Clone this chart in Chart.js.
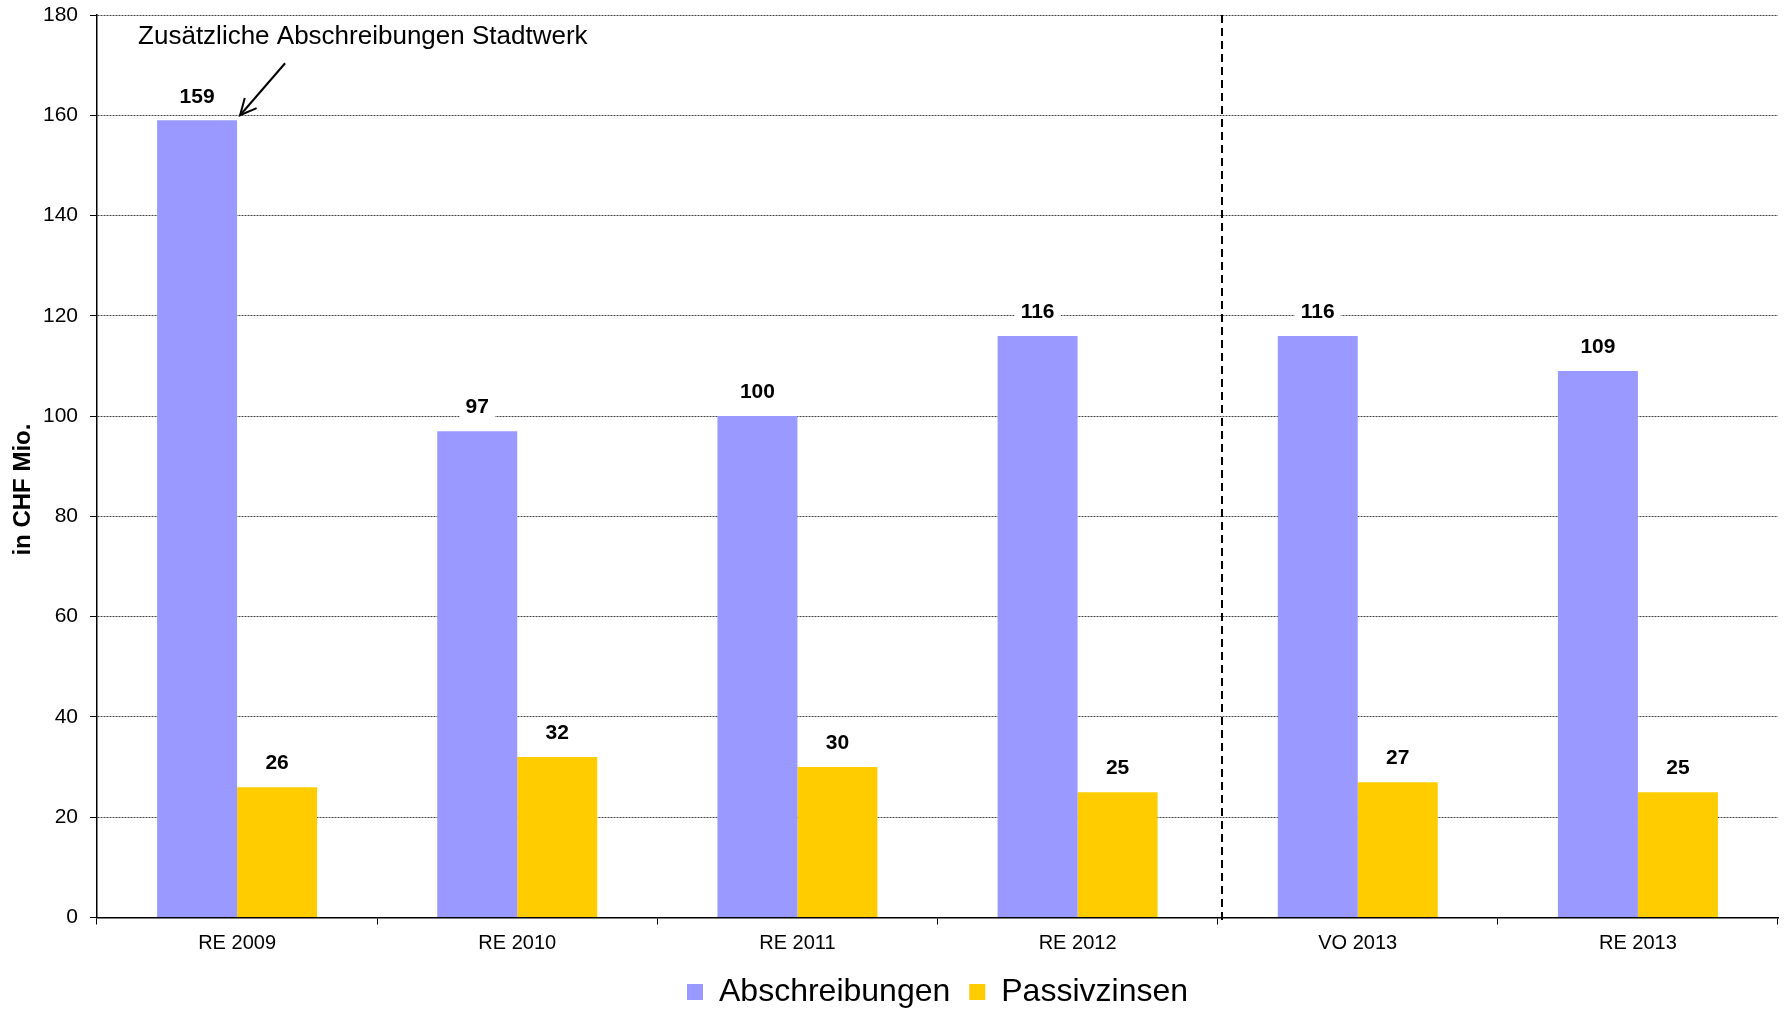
<!DOCTYPE html>
<html>
<head>
<meta charset="utf-8">
<script src="https://cdn.jsdelivr.net/npm/chart.js@4.4.0/dist/chart.umd.min.js"></script>
<style>
  html, body { margin: 0; padding: 0; background: #fff; }
  #wrap { width: 1787px; height: 1010px; position: relative; }
</style>
</head>
<body>
<div id="wrap"><canvas id="chart"></canvas></div>
<script>
// Data
const categories = ['RE 2009', 'RE 2010', 'RE 2011', 'RE 2012', 'VO 2013', 'RE 2013'];
const abschreibungen = [159, 97, 100, 116, 116, 109];
const passivzinsen = [26, 32, 30, 25, 27, 25];
const yTicks = [0, 20, 40, 60, 80, 100, 120, 140, 160, 180];

// Annotation: note above the first bar, divider between actuals and budget
const noteText = 'Zusätzliche Abschreibungen Stadtwerk';
const noteIndex = 0;
const noteValue = 160;
const dividerAfter = 3;

const FONT = "'Liberation Sans', Arial, sans-serif";

// Bold value labels above each bar, on a white patch so gridlines break
const valueLabels = {
    id: 'valueLabels',
    afterDatasetsDraw(chart) {
        const ctx = chart.ctx;
        ctx.save();
        ctx.font = 'bold 21px ' + FONT;
        ctx.textAlign = 'center';
        ctx.textBaseline = 'middle';
        chart.data.datasets.forEach((ds, i) => {
            const meta = chart.getDatasetMeta(i);
            meta.data.forEach((bar, j) => {
                const text = String(ds.data[j]);
                const w = ctx.measureText(text).width + 12;
                const y = bar.y - 23.5;
                ctx.fillStyle = '#fff';
                ctx.fillRect(bar.x - w / 2, y - 11, w, 22);
                ctx.fillStyle = '#000';
                ctx.fillText(text, bar.x, y);
            });
        });
        ctx.restore();
    }
};

// Dashed separator between RE 2012 and VO 2013
const divider = {
    id: 'divider',
    afterDatasetsDraw(chart) {
        const xs = chart.scales.x;
        const area = chart.chartArea;
        const x = Math.round((xs.getPixelForValue(dividerAfter) + xs.getPixelForValue(dividerAfter + 1)) / 2) + 4;
        const ctx = chart.ctx;
        ctx.save();
        ctx.strokeStyle = '#000';
        ctx.lineWidth = 2;
        ctx.setLineDash([8, 5]);
        ctx.beginPath();
        ctx.moveTo(x, area.top);
        ctx.lineTo(x, area.bottom + 6);
        ctx.stroke();
        ctx.restore();
    }
};

// Note text with an arrow pointing at the first bar
const note = {
    id: 'note',
    afterDraw(chart) {
        const xs = chart.scales.x;
        const ys = chart.scales.y;
        const tipX = xs.getPixelForValue(noteIndex) + 3;
        const tipY = ys.getPixelForValue(noteValue);
        const startX = tipX + 45;
        const startY = tipY - 52;
        const ctx = chart.ctx;
        ctx.save();
        ctx.strokeStyle = '#000';
        ctx.lineWidth = 2;
        ctx.beginPath();
        ctx.moveTo(startX, startY);
        ctx.lineTo(tipX, tipY);
        ctx.stroke();
        // open arrow head
        const ang = Math.atan2(tipY - startY, tipX - startX);
        const len = 18;
        ctx.beginPath();
        ctx.moveTo(tipX - len * Math.cos(ang - 0.45), tipY - len * Math.sin(ang - 0.45));
        ctx.lineTo(tipX, tipY);
        ctx.lineTo(tipX - len * Math.cos(ang + 0.45), tipY - len * Math.sin(ang + 0.45));
        ctx.stroke();
        ctx.font = '26px ' + FONT;
        ctx.fillStyle = '#000';
        ctx.textAlign = 'left';
        ctx.textBaseline = 'middle';
        ctx.fillText(noteText, tipX - 102, tipY - 78);
        ctx.restore();
    }
};

const ctx = document.getElementById('chart').getContext('2d');
const chart = new Chart(ctx, {
    type: 'bar',
    data: {
        labels: categories,
        datasets: [{
            label: 'Abschreibungen',
            data: abschreibungen,
            backgroundColor: '#9999FF',
            barPercentage: 1,
            categoryPercentage: 0.571
        }, {
            label: 'Passivzinsen',
            data: passivzinsen,
            backgroundColor: '#FFCC00',
            barPercentage: 1,
            categoryPercentage: 0.571
        }]
    },
    options: {
        responsive: true,
        maintainAspectRatio: false,
        animation: false,
        layout: { padding: { left: 0, right: 9, top: 15, bottom: 0 } },
        plugins: {
            tooltip: { enabled: false },
            legend: {
                position: 'bottom',
                fullSize: false,
                maxHeight: 53,
                labels: {
                    font: { family: FONT, size: 32 },
                    color: '#000',
                    boxWidth: 16,
                    boxHeight: 16,
                    padding: 19
                }
            }
        },
        scales: {
            x: {
                afterFit: s => { s.height = 39.5; },
                grid: {
                    drawOnChartArea: false,
                    tickLength: 7,
                    tickColor: '#000'
                },
                border: { color: '#000', width: 1.5 },
                ticks: {
                    font: { family: FONT, size: 20 },
                    color: '#000',
                    padding: 7
                }
            },
            y: {
                min: 0,
                max: 180,
                afterFit: s => {
                    s.width = 97;
                    s.paddingTop = 0;
                    s.paddingBottom = 0;
                },
                afterBuildTicks: s => { s.ticks = yTicks.map(v => ({ value: v })); },
                grid: {
                    color: c => (c.tick && c.tick.value === 0) ? 'rgba(0,0,0,0)' : '#444',
                    lineWidth: 1,
                    tickLength: 7,
                    tickColor: '#000',
                    tickBorderDash: []
                },
                border: { color: '#000', width: 1.5, dash: [2, 1] },
                ticks: {
                    font: { family: FONT, size: 21 },
                    color: '#000',
                    padding: 12
                },
                title: {
                    display: true,
                    // trailing spaces push the title a little below the axis middle
                    text: 'in CHF Mio.       ',
                    font: { family: FONT, size: 24, weight: 'bold' },
                    color: '#000',
                    padding: { top: 9, bottom: 0 }
                }
            }
        }
    },
    plugins: [valueLabels, divider, note]
});
</script>
</body>
</html>
